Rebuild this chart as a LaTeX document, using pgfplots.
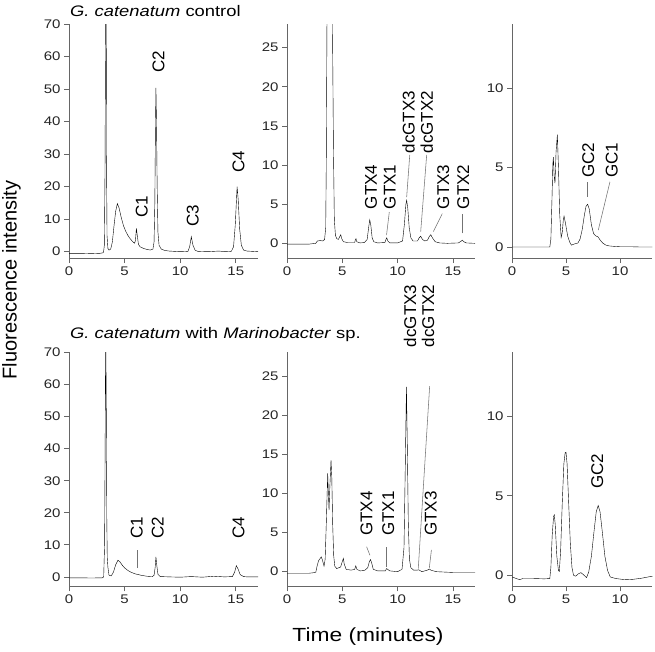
\documentclass[border=0pt]{standalone}
\usepackage{pgfplots}
\pgfplotsset{compat=1.18}
\usepackage{fontspec}
\setmainfont{Liberation Sans}[FakeStretch=1.2]
\newfontfamily\plainsans{Liberation Sans}
\newcommand\ticksfont{\fontsize{12.5}{12.5}\selectfont}
\newcommand\titlefont{\fontsize{15.3}{15.3}\selectfont}
\pgfplotsset{
  chrom/.style={
    scale only axis,
    anchor=south west,
    height=234pt,
    axis x line*=bottom, axis y line*=left,
    axis line style={black!60, line width=0.7pt},
    tick style={black!60, line width=0.7pt},
    tick align=outside,
    major tick length=5pt,
    xmin=0,
    tick label style={font=\ticksfont, text=black!85},
    /pgf/number format/assume math mode=true,
    clip mode=individual,
    cycle list={{black, line width=1.15pt, line join=round, mark=none}},
  },
}
\tikzset{
  lbl/.style={rotate=90, anchor=center, inner sep=0pt, font=\plainsans\fontsize{17}{17}\selectfont},
  leader/.style={black!55, line width=0.55pt},
}
\begin{document}
\begin{tikzpicture}
\path[use as bounding box] (0pt,0pt) rectangle (655pt,652pt);

% ---------- top-left ----------
\begin{axis}[chrom, at={(69pt,393.8pt)}, width=189pt, xmax=17, ymin=-2, ymax=70,
  xtick={0,5,10,15}, ytick={0,10,...,70}]
\addplot coordinates {(0,-0.5) (1,-0.5) (2,-0.6) (2.8,-0.5) (3.1,-0.3) (3.18,2) (3.24,25) (3.28,60) (3.32,80) (3.36,60) (3.38,25) (3.42,5) (3.5,1) (3.6,0.5) (3.75,0.8) (3.9,3) (4.05,8) (4.2,12.5) (4.35,14.8) (4.5,13.5) (4.7,10.5) (4.9,8) (5.1,6.3) (5.3,5) (5.5,4) (5.7,3.2) (5.9,2.6) (5.98,3.5) (6.06,7.2) (6.14,5) (6.25,2.2) (6.4,1.5) (6.7,1) (7.0,0.7) (7.3,0.5) (7.55,0.8) (7.65,3) (7.72,15) (7.78,40) (7.82,50.4) (7.87,40) (7.93,20) (8.0,6) (8.1,2) (8.3,0.8) (8.6,0.4) (9,0.2) (10,0) (10.7,0.1) (10.85,1.5) (11.0,4.6) (11.15,2) (11.35,0.4) (11.6,0.1) (12.5,0) (13.5,0.2) (14,0) (14.6,0.1) (14.8,1.5) (14.95,8) (15.05,15) (15.12,20) (15.22,16) (15.35,7) (15.5,2) (15.7,0.5) (16,0.2) (17,0)};
\node[lbl] at (axis cs:6.55,13.8) {C1};
\node[lbl] at (axis cs:8.05,58.5) {C2};
\node[lbl] at (axis cs:11.14,11.0) {C3};
\node[lbl] at (axis cs:15.25,27.7) {C4};
\end{axis}

% ---------- top-middle ----------
\begin{axis}[chrom, at={(287pt,393.8pt)}, width=188pt, xmax=17, ymin=-1.9, ymax=28,
  xtick={0,5,10,15}, ytick={0,5,...,25}]
\addplot coordinates {(0,-0.1) (1,-0.1) (2,-0.1) (2.6,0) (2.75,0.3) (3.0,0.35) (3.25,0.3) (3.4,0.5) (3.5,2) (3.55,10) (3.62,30) (3.7,40) (3.8,35) (3.9,38) (4.0,40) (4.1,30) (4.2,12) (4.28,3) (4.38,1) (4.5,0.6) (4.65,0.5) (4.75,0.8) (4.86,1.1) (4.95,0.6) (5.1,0.2) (5.5,0.1) (6.12,0.1) (6.19,0.5) (6.24,0.6) (6.31,0.2) (6.6,0.05) (7.0,0.1) (7.25,0.5) (7.38,2) (7.48,3.0) (7.58,2.3) (7.7,0.7) (7.85,0.2) (8.2,0.05) (8.85,0.1) (8.95,0.5) (9.02,0.7) (9.12,0.3) (9.3,0.05) (10.0,0.05) (10.45,0.3) (10.62,2.5) (10.75,5.0) (10.82,5.5) (10.92,4.5) (11.05,2) (11.2,0.7) (11.4,0.3) (11.8,0.3) (11.95,0.7) (12.09,0.9) (12.25,0.5) (12.45,0.3) (12.7,0.4) (12.88,0.9) (13.0,1.1) (13.15,0.7) (13.4,0.2) (13.8,0.05) (14.5,0) (15.5,0.05) (15.72,0.25) (15.85,0.4) (16.0,0.2) (16.2,0.05) (17,0)};
\node[lbl] at (axis cs:7.6,7.2) {GTX4};
\node[lbl] at (axis cs:9.3,7.2) {GTX1};
\node[lbl] at (axis cs:11.0,15.5) {dcGTX3};
\node[lbl] at (axis cs:12.63,15.5) {dcGTX2};
\node[lbl] at (axis cs:14.13,7.2) {GTX3};
\node[lbl] at (axis cs:15.94,7.2) {GTX2};
\draw[leader] (axis cs:9.0,1.06) -- (axis cs:9.25,4.0);
\draw[leader] (axis cs:10.82,5.9) -- (axis cs:11.1,11.3);
\draw[leader] (axis cs:12.09,1.5) -- (axis cs:12.63,11.3);
\draw[leader] (axis cs:13.23,1.5) -- (axis cs:14.04,3.8);
\draw[leader] (axis cs:15.85,1.28) -- (axis cs:15.85,3.8);
\end{axis}

% ---------- top-right ----------
\begin{axis}[chrom, at={(512pt,393.8pt)}, width=140.4pt, xmax=13, ymin=-0.7, ymax=14,
  xtick={0,5,10}, ytick={0,5,10}]
\addplot coordinates {(0,0) (1,0) (2,0) (3,0) (3.5,0) (3.6,0.5) (3.7,3) (3.78,5.2) (3.83,5.65) (3.9,4.5) (3.98,4.0) (4.08,6) (4.2,7.06) (4.3,5) (4.42,2) (4.55,0.6) (4.65,0.9) (4.75,1.7) (4.82,1.94) (4.95,1.5) (5.15,0.7) (5.35,0.3) (5.5,0.12) (5.8,0.2) (6.1,0.25) (6.3,0.5) (6.5,1.1) (6.7,2.0) (6.85,2.55) (7.0,2.69) (7.15,2.4) (7.35,1.4) (7.55,0.85) (7.75,0.7) (7.95,0.65) (8.15,0.45) (8.4,0.25) (8.7,0.12) (9.0,0.07) (9.5,0.04) (10,0.02) (11,0.02) (12,0) (13,0)};
\node[lbl] at (axis cs:7.07,5.46) {GC2};
\node[lbl] at (axis cs:9.23,5.46) {GC1};
\draw[leader] (axis cs:7.0,3.16) -- (axis cs:7.0,4.1);
\draw[leader] (axis cs:7.99,1.07) -- (axis cs:9.07,4.1);
\end{axis}

% ---------- bottom-left ----------
\begin{axis}[chrom, at={(69pt,65.5pt)}, width=189pt, xmax=17, ymin=-3, ymax=70,
  xtick={0,5,10,15}, ytick={0,10,...,70}]
\addplot coordinates {(0,-0.3) (1,-0.3) (2,-0.35) (3.0,-0.3) (3.12,0) (3.2,10) (3.25,40) (3.3,80) (3.36,50) (3.4,18) (3.44,6) (3.5,3) (3.6,0.5) (3.8,0.3) (4.0,1.5) (4.2,3.8) (4.4,5.2) (4.6,4.6) (4.8,3.6) (5.0,2.8) (5.3,2) (5.6,1.4) (6.0,0.9) (6.5,0.5) (7.0,0.2) (7.5,0.1) (7.65,0.5) (7.75,3) (7.82,6.2) (7.9,3.5) (8.0,0.8) (8.2,0.1) (9,0) (10,-0.1) (11,0.1) (12,-0.1) (13,0.2) (14,0) (14.7,0.1) (14.9,1.5) (15.05,3.5) (15.2,2.5) (15.4,0.7) (15.7,0.1) (16,0) (17,0)};
\node[lbl] at (axis cs:6.1,15.4) {C1};
\node[lbl] at (axis cs:7.99,15.4) {C2};
\node[lbl] at (axis cs:15.25,15.4) {C4};
\draw[leader] (axis cs:6.15,2.7) -- (axis cs:6.15,8.3);
\end{axis}

% ---------- bottom-middle ----------
\begin{axis}[chrom, at={(287pt,65.5pt)}, width=188pt, xmax=17, ymin=-2, ymax=28,
  xtick={0,5,10,15}, ytick={0,5,...,25}]
\addplot coordinates {(0,-0.3) (1,-0.3) (2,-0.3) (2.6,-0.2) (2.7,0.5) (2.85,1.3) (3.0,1.6) (3.1,1.8) (3.2,1.4) (3.35,0.6) (3.45,1.5) (3.55,6) (3.68,12.5) (3.74,10) (3.8,7.8) (3.88,11) (3.98,14.2) (4.05,12) (4.13,6) (4.22,2) (4.32,0.6) (4.5,0.3) (4.85,0.5) (5.0,1.2) (5.1,1.6) (5.17,0.9) (5.35,0.2) (5.8,0.1) (6.12,0.2) (6.22,0.65) (6.32,0.2) (6.6,0.0) (7.0,0.05) (7.3,0.4) (7.45,1.2) (7.55,1.45) (7.66,1.0) (7.8,0.2) (8.2,0) (8.9,0) (9.0,0.3) (9.1,0.2) (9.3,0) (10.0,-0.1) (10.4,0.2) (10.58,3) (10.68,12) (10.8,23.6) (10.88,16) (10.97,6) (11.07,1.5) (11.2,0.4) (11.45,0.1) (11.8,0.1) (11.9,0.15) (12.2,-0.1) (12.7,0.1) (12.87,0.25) (13.0,0.1) (13.5,-0.1) (15,-0.2) (17,-0.2)};
\node[lbl] at (axis cs:7.2,7.36) {GTX4};
\node[lbl] at (axis cs:9.16,7.36) {GTX1};
\node[lbl] at (axis cs:11.12,32.7) {dcGTX3};
\node[lbl] at (axis cs:12.75,32.7) {dcGTX2};
\node[lbl] at (axis cs:12.99,7.36) {GTX3};
\draw[leader] (axis cs:7.2,3.09) -- (axis cs:7.5,2.0);
\draw[leader] (axis cs:9.0,0.5) -- (axis cs:9.0,3.1);
\draw[leader] (axis cs:11.87,0.3) -- (axis cs:12.9,23.7);
\draw[leader] (axis cs:12.87,0.4) -- (axis cs:13.06,2.7);
\end{axis}

% ---------- bottom-right ----------
\begin{axis}[chrom, at={(512pt,65.5pt)}, width=140.4pt, xmax=13, ymin=-0.7, ymax=14,
  xtick={0,5,10}, ytick={0,5,10}]
\addplot coordinates {(0,-0.1) (0.4,-0.2) (0.7,-0.27) (1,-0.2) (2,-0.2) (3,-0.22) (3.5,-0.2) (3.6,0.5) (3.72,2.5) (3.85,3.7) (3.92,3.8) (4.0,3.2) (4.15,1.2) (4.3,0.3) (4.38,0.25) (4.5,1.5) (4.65,4.5) (4.8,7.0) (4.92,7.7) (5.0,7.73) (5.1,7.0) (5.25,4.5) (5.4,2) (5.55,0.5) (5.7,0.0) (5.9,-0.05) (6.15,0.1) (6.38,0.17) (6.6,0.05) (6.9,-0.14) (7.1,0.2) (7.35,1.2) (7.6,2.8) (7.8,4.0) (7.98,4.39) (8.15,4.0) (8.35,2.8) (8.6,1.2) (8.85,0.3) (9.1,-0.1) (9.6,-0.2) (10.2,-0.25) (10.6,-0.27) (11.2,-0.25) (12,-0.18) (12.6,-0.1) (13,-0.06)};
\node[lbl] at (axis cs:7.9,6.55) {GC2};
\end{axis}

% ---------- titles and axis labels ----------
\node[anchor=base west, font=\titlefont, inner sep=0pt] at (70pt,635.3pt) {\textit{G. catenatum} control};
\node[anchor=base west, font=\titlefont, inner sep=0pt] at (70pt,313.7pt) {\textit{G. catenatum} with \textit{Marinobacter} sp.};
\node[rotate=90, anchor=base, inner sep=0pt, font=\plainsans\fontsize{20}{20}\selectfont] at (16.7pt,372pt) {Fluorescence intensity};
\node[anchor=base, inner sep=0pt, font=\fontsize{19}{19}\selectfont] at (368pt,10.3pt) {Time (minutes)};
\end{tikzpicture}
\end{document}
